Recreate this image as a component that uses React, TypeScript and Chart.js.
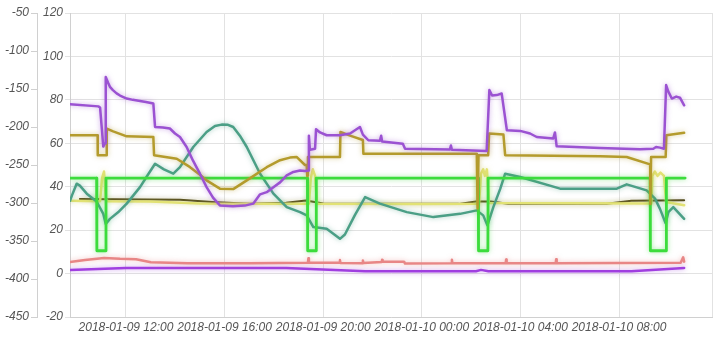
import React, { useEffect, useRef } from 'react';
import { Chart, registerables } from 'chart.js';

Chart.register(...registerables);

type Pt = [number, number];

// x values are hours counted from 2018-01-09 00:00
const X_MIN = 9.73;
const X_MAX = 35.77;
const xTickHours = [12, 16, 20, 24, 28, 32];
const xTickLabels = [
  '2018-01-09 12:00',
  '2018-01-09 16:00',
  '2018-01-09 20:00',
  '2018-01-10 00:00',
  '2018-01-10 04:00',
  '2018-01-10 08:00',
];

const purpleTop: Pt[] = [
  [9.73, 78.0], [10.88, 77.0], [10.95, 76.5], [11.08, 58.5], [11.15, 60], [11.18, 90.5],
  [11.27, 88], [11.35, 86], [11.47, 84.5], [11.62, 83], [11.76, 82], [12.03, 80.6],
  [12.28, 80], [12.57, 79.5], [12.81, 79], [13.11, 78.3], [13.18, 67.5], [13.5, 67.3],
  [13.78, 66.8], [13.99, 64.5], [14.19, 62.9], [14.46, 58.3], [14.72, 52], [15.0, 46],
  [15.27, 39.8], [15.53, 35], [15.81, 31.4], [16.34, 31], [16.82, 31.3], [17.16, 32.2],
  [17.44, 36.5], [17.71, 37.5], [17.98, 39.8], [18.25, 42], [18.52, 45.2], [18.79, 46.8],
  [19.06, 47.5], [19.26, 47.2], [19.4, 47.5], [19.42, 63.5], [19.46, 57], [19.67, 57.5],
  [19.71, 66.5], [19.87, 65], [20.14, 63.7], [20.68, 63.7], [21.09, 64.5], [21.29, 66],
  [21.49, 67.5], [21.61, 64], [21.83, 61.4], [22.3, 61.2], [22.35, 63.5], [22.39, 60.8],
  [23.23, 59.8], [23.32, 57.5], [25.14, 57.1], [25.18, 59], [25.22, 57], [26.63, 56.5],
  [26.74, 84.5], [26.85, 82], [27.04, 82.2], [27.24, 82.9], [27.45, 66], [27.99, 65.7],
  [28.39, 64.5], [28.66, 62.9], [29.33, 62.2], [29.4, 65], [29.47, 58.6], [31.23, 57.8],
  [32.85, 57.3], [33.39, 57.5], [33.5, 58.3], [33.66, 58], [33.82, 57.5], [33.91, 86.8],
  [33.99, 84], [34.14, 80.6], [34.32, 81.5], [34.47, 81], [34.64, 77.5],
];

const gold: Pt[] = [
  [9.73, 63.7], [10.85, 63.7], [10.855, 54.5], [11.2, 54.5], [11.22, 66.8], [11.48, 65.5],
  [12.03, 63.2], [13.11, 62.9], [13.14, 54.5], [14.06, 52.9], [14.6, 49], [15.0, 45.5],
  [15.27, 42.9], [15.81, 39.1], [16.35, 38.9], [16.9, 42.9], [17.71, 49], [18.25, 52.2],
  [18.65, 53.4], [18.92, 53.7], [19.26, 50], [19.33, 50], [19.35, 45], [19.38, 53.7],
  [20.68, 53.7], [20.7, 65.2], [21.09, 63.5], [21.61, 61.5], [21.63, 55.2], [26.23, 55.2],
  [26.26, 30], [26.3, 54.5], [26.69, 54.5], [26.73, 64.5], [27.31, 64], [27.38, 54.5],
  [31.23, 54], [32.31, 53.7], [33.26, 50.3], [33.27, 32], [33.3, 53.7], [33.89, 53.7],
  [33.92, 63.7], [34.64, 64.8],
];

const greenStep: Pt[] = [
  [9.73, 44], [10.81, 44], [10.82, 10.5], [11.18, 10.5], [11.19, 44], [19.36, 44],
  [19.37, 10.5], [19.71, 10.5], [19.72, 44], [26.29, 44], [26.3, 10.5], [26.68, 10.5],
  [26.69, 44], [33.26, 44], [33.27, 10.5], [33.91, 10.5], [33.92, 44], [34.68, 44],
];

const teal: Pt[] = [
  [9.73, 33.5], [9.81, 36], [10.0, 41.4], [10.13, 40.5], [10.41, 36.8], [10.81, 33.2],
  [11.08, 27.5], [11.18, 22.9], [11.35, 25.2], [11.68, 28.2], [12.03, 32.2], [12.57, 39.8],
  [12.89, 45.5], [13.18, 50.6], [13.54, 48], [13.92, 46], [14.19, 49], [14.73, 58.3],
  [15.27, 65.2], [15.61, 68], [15.88, 68.6], [16.14, 68.5], [16.35, 67.5], [16.62, 63.5],
  [16.9, 58.3], [17.44, 46], [17.98, 36.8], [18.52, 30.6], [19.06, 28.3], [19.33, 26.8],
  [19.6, 21.4], [20.14, 20.6], [20.68, 16], [20.88, 18], [21.29, 27], [21.7, 35.2],
  [22.3, 32.2], [23.39, 28.3], [24.47, 26], [25.55, 27.5], [26.23, 29.1], [26.49, 26.8],
  [26.66, 22.2], [26.9, 30.6], [27.18, 39], [27.38, 46], [27.99, 44.5], [29.61, 39.1],
  [31.91, 39.1], [32.31, 41.1], [33.12, 38.3], [33.46, 34.5], [33.66, 29.8], [33.89, 23.2],
  [34.0, 28.3], [34.2, 30.6], [34.64, 25.2],
];

const yellow: Pt[] = [
  [9.73, 33.5], [10.95, 33.3], [11.03, 44], [11.11, 47], [11.19, 34], [11.27, 33.3],
  [12.97, 33.2], [15.0, 32.3], [17.03, 32.2], [19.42, 32.2], [19.5, 44], [19.58, 48],
  [19.67, 45], [19.75, 32.2], [23.92, 32], [26.32, 32.2], [26.4, 46], [26.49, 48],
  [26.56, 45], [26.64, 48], [26.72, 32.5], [33.31, 32.3], [33.35, 45], [33.45, 47],
  [33.56, 45], [33.68, 46.5], [33.82, 45], [33.91, 33], [34.64, 31.5],
];

const darkLine: Pt[] = [
  [10.13, 34.3], [14.19, 34], [15.5, 33], [17.0, 32.2], [18.5, 32.6], [19.3, 33.6],
  [20.0, 32.3], [25.5, 32.1], [26.2, 33.2], [26.8, 33.2], [27.5, 32.2], [31.5, 32.2],
  [32.5, 33.5], [34.64, 33.8],
];

const pink: Pt[] = [
  [9.73, 5.3], [10.34, 6.3], [11.11, 7.2], [11.76, 6.8], [12.41, 6.6], [13.01, 5.2],
  [14.5, 4.8], [17.0, 4.8], [19.38, 5.0], [19.4, 7.0], [19.42, 5.0], [20.66, 5.0],
  [20.68, 6.2], [20.7, 4.9], [21.59, 4.7], [21.61, 6.0], [21.63, 4.9], [22.37, 5.3],
  [22.39, 6.3], [22.41, 5.4], [23.28, 5.5], [23.32, 4.6], [25.2, 4.7], [25.22, 6.4],
  [25.24, 4.7], [27.4, 4.7], [27.42, 6.5], [27.44, 4.7], [29.43, 4.8], [29.45, 6.6],
  [29.47, 4.8], [34.5, 5.0], [34.6, 7.5], [34.64, 5.5],
];

const purpleLow: Pt[] = [
  [9.73, 1.7], [12.0, 2.6], [18.5, 2.6], [21.7, 1.1], [26.2, 1.1], [26.4, 1.7],
  [26.7, 1.1], [32.5, 1.1], [34.64, 2.6],
];

const FONT = { family: "'Liberation Sans', Arial, sans-serif", size: 12, style: 'italic' as const };

function toXY(pts: Pt[]) {
  return pts.map(([x, y]) => ({ x, y }));
}

const glowPlugin = {
  id: 'glow',
  beforeDatasetDraw(chart: any, args: any) {
    const ds = chart.data.datasets[args.index];
    const ctx = chart.ctx;
    ctx.save();
    ctx.shadowColor = ds.glowColor || 'rgba(0,0,0,0)';
    ctx.shadowBlur = 5;
  },
  afterDatasetDraw(chart: any) {
    chart.ctx.restore();
  },
};

export default function App() {
  const ref = useRef<HTMLCanvasElement>(null);

  useEffect(() => {
    if (!ref.current) return;
    const mk = (data: Pt[], color: string, glow: string, width = 2.5) => ({
      data: toXY(data),
      borderColor: color,
      glowColor: glow,
      borderWidth: width,
      pointRadius: 0,
      tension: 0,
      fill: false,
      borderJoinStyle: 'round',
      borderCapStyle: 'round',
      yAxisID: 'y',
    });
    const chart = new Chart(ref.current, {
      type: 'line',
      data: {
        datasets: [
          mk(purpleTop, '#9b52d2', 'rgba(155,82,210,0.5)'),
          mk(gold, '#b49b2c', 'rgba(180,155,44,0.5)'),
          mk(greenStep, '#3cdc3c', 'rgba(60,220,60,0.5)', 2.8),
          mk(teal, '#4b9f86', 'rgba(75,159,134,0.5)'),
          mk(yellow, '#e2e274', 'rgba(226,226,116,0.5)'),
          mk(darkLine, '#4d4519', 'rgba(77,69,25,0.35)', 2),
          mk(pink, '#e88686', 'rgba(232,134,134,0.5)'),
          mk(purpleLow, '#a03fe0', 'rgba(160,63,224,0.5)'),
        ] as any,
      },
      options: {
        animation: false,
        responsive: true,
        maintainAspectRatio: false,
        layout: { padding: { left: 0, right: 11, top: 13, bottom: 0 } },
        plugins: { legend: { display: false }, tooltip: { enabled: false } },
        scales: {
          x: {
            type: 'linear',
            min: X_MIN,
            max: X_MAX,
            afterBuildTicks: (scale: any) => {
              scale.ticks = [X_MIN, ...xTickHours, X_MAX].map((v) => ({ value: v }));
            },
            afterFit: (scale: any) => {
              scale.height = 20;
            },
            ticks: {
              autoSkip: false,
              maxRotation: 0,
              minRotation: 0,
              padding: 3,
              color: '#555',
              font: FONT,
              callback: (v: any) => {
                const i = xTickHours.indexOf(Number(v));
                return i >= 0 ? xTickLabels[i] : '';
              },
            },
            grid: { color: '#e2e2e2', drawTicks: false, lineWidth: 1 },
            border: { color: '#d0d0d0' },
          },
          y2: {
            type: 'linear',
            position: 'left',
            weight: 1,
            min: -450,
            max: -50,
            afterFit: (scale: any) => {
              scale.width = 37;
            },
            ticks: { stepSize: 50, color: '#555', font: FONT, padding: 2 },
            grid: { drawOnChartArea: false, tickLength: 6, color: '#d0d0d0' },
            border: { color: '#d0d0d0' },
          },
          y: {
            type: 'linear',
            position: 'left',
            weight: 0,
            min: -20,
            max: 120,
            afterFit: (scale: any) => {
              scale.width = 33;
            },
            ticks: { stepSize: 20, color: '#555', font: FONT, padding: 2 },
            grid: { color: '#e2e2e2', tickLength: 5 },
            border: { color: '#d0d0d0' },
          },
        },
      } as any,
      plugins: [glowPlugin],
    });
    return () => chart.destroy();
  }, []);

  return (
    <div style={{ position: 'fixed', left: 0, top: 0, width: 723, height: 337, background: '#fff' }}>
      <canvas ref={ref} />
    </div>
  );
}
